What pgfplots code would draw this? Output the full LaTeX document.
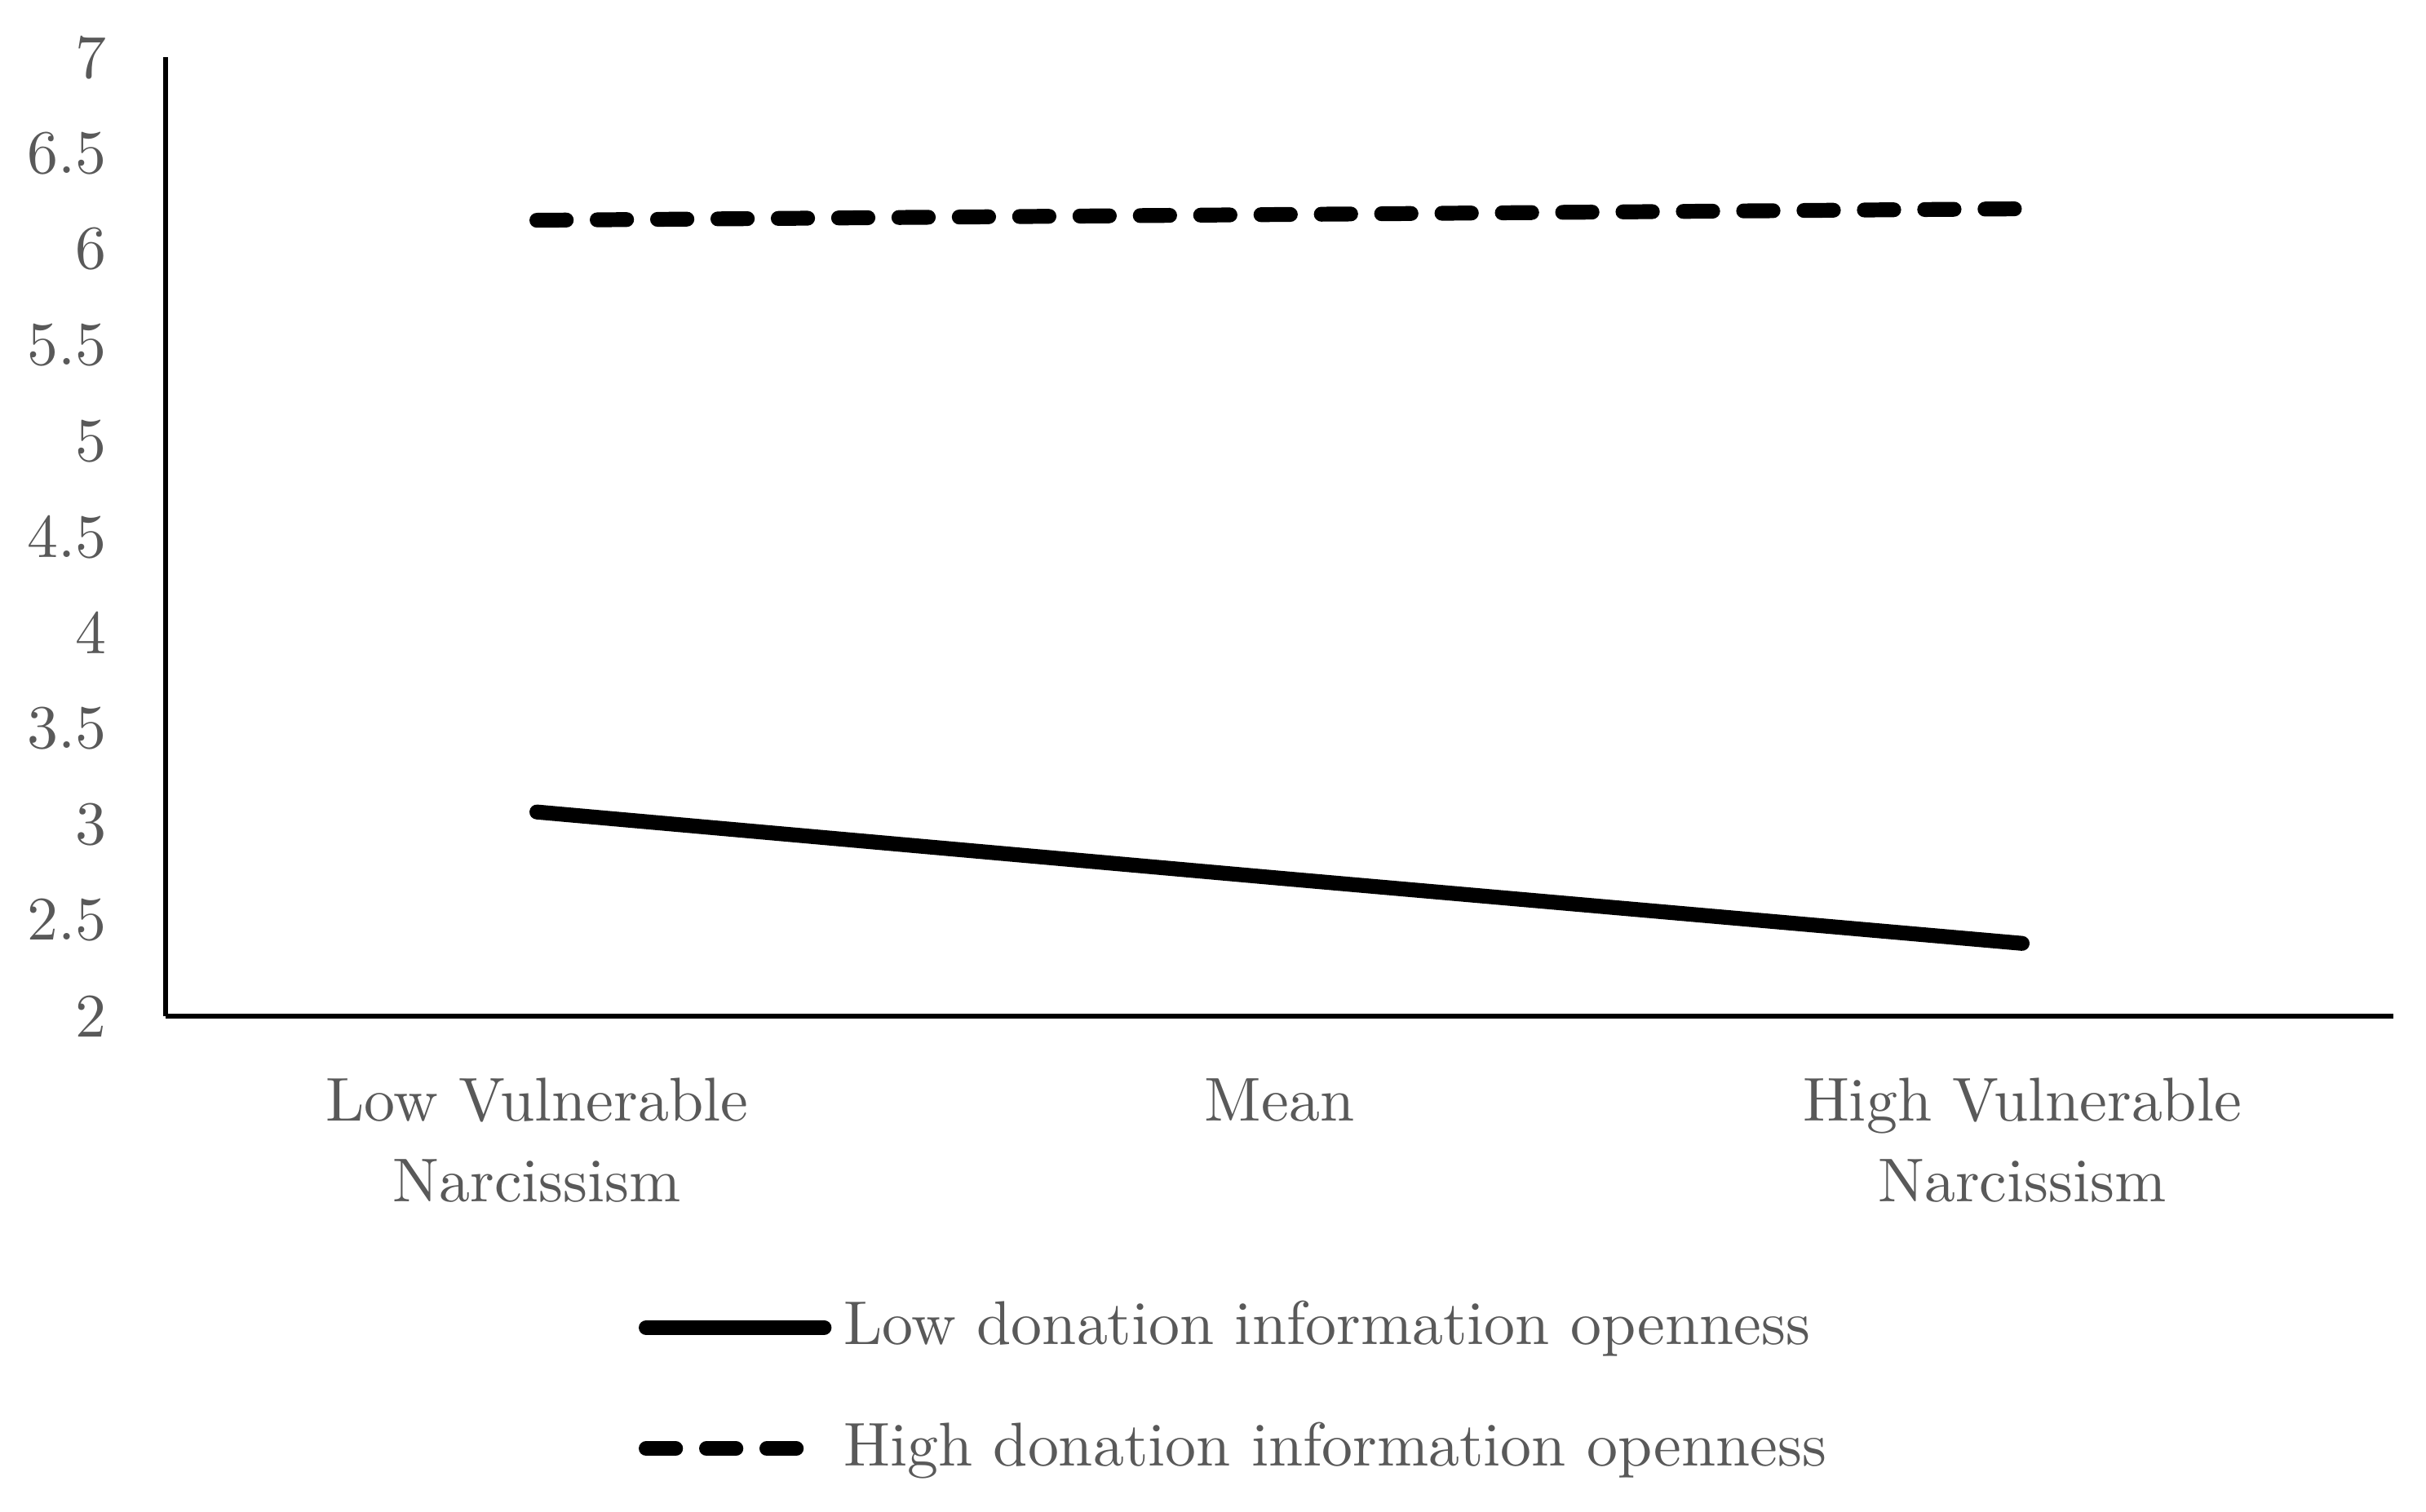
\documentclass[border=0pt]{standalone}
\usepackage{pgfplots}
\pgfplotsset{compat=1.18}
\definecolor{txt}{HTML}{595959}
\begin{document}
\begin{tikzpicture}
\begin{axis}[
  at={(0pt,0pt)}, anchor=south west,
  width=360pt, height=155pt, scale only axis,
  xmin=-0.5, xmax=2.5, ymin=2, ymax=7,
  axis lines*=left,
  axis line style={line width=0.7pt, black, -},
  xtick={0,1,2},
  xticklabels={{Low Vulnerable\\Narcissism},{Mean},{High Vulnerable\\Narcissism}},
  xticklabel style={align=center, text=txt, font=\fontsize{10}{13}\selectfont, yshift=-6.5pt},
  ytick={2,2.5,...,7},
  yticklabel style={text=txt, font=\fontsize{10}{12}\selectfont, xshift=-6pt},
  /pgf/number format/assume math mode=true,
  major tick length=0pt,
  legend style={at={(0.2035,-0.27)}, anchor=north west, draw=none, fill=none,
    font=\fontsize{10}{12}\selectfont, text=txt, row sep=7pt},
  legend cell align=left,
  legend image code/.code={\draw[#1] (0pt,0pt) -- (28.75pt,0pt);},
  clip=false,
]
\addplot[black, line width=2.4pt, line cap=round] coordinates {(0,3.065) (1,2.72) (2,2.38)};
\addlegendentry{Low donation information openness}
\addplot[black, line width=2.4pt, line cap=round, dash pattern=on 4.75pt off 5pt] coordinates {(0,6.15) (1,6.18) (2,6.21)};
\addlegendentry{High donation information openness}
\end{axis}
\pgfresetboundingbox
\path (-26.75pt,-80pt) rectangle (365.25pt,164.25pt);
\end{tikzpicture}
\end{document}
